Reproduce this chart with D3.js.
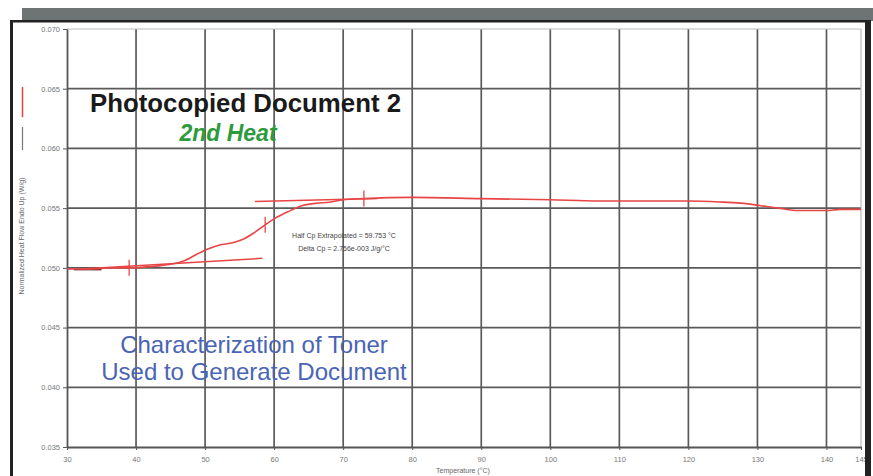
<!DOCTYPE html>
<html>
<head>
<meta charset="utf-8">
<script src="https://cdn.jsdelivr.net/npm/d3@7"></script>
<style>
  body { margin: 0; background: #fff; }
  text { font-family: "Liberation Sans", Arial, sans-serif; }
</style>
</head>
<body>
<div id="chart"></div>
<script>
// heat flow curve (temperature, W/g)
var temps = [30, 33, 36, 39, 42, 45, 47, 49, 50.5, 52, 54, 55.5, 57, 58.7, 60, 62, 64, 66, 68, 70, 73, 80, 90, 100, 107, 110, 120, 125, 128, 130.5, 133, 136, 138, 140, 142, 145];
var heatFlow = [0.0499, 0.0499, 0.0500, 0.0500, 0.0501, 0.0503, 0.0506, 0.0512, 0.0516, 0.0519, 0.0521, 0.0524, 0.0529, 0.0536, 0.0541, 0.0547, 0.0552, 0.0554, 0.0555, 0.0557, 0.0558, 0.0559, 0.0558, 0.0557, 0.0556, 0.0556, 0.0556, 0.0555, 0.0554, 0.0552, 0.0550, 0.0548, 0.0548, 0.0548, 0.0549, 0.0549];
// tangent lines of the glass transition
var lowTangentT = [32, 58.3];
var lowTangentV = [0.0499, 0.0508];
var highTangentT = [57.2, 75];
var highTangentV = [0.05555, 0.0558];
// onset / mid / end markers
var markT = [39, 58.7, 73];
var markV = [0.0500, 0.0536, 0.0558];
// short dark baseline trace
var darkT = [31, 35];
var darkV = [0.04985, 0.04985];

var xTicks = [30, 40, 50, 60, 70, 80, 90, 100, 110, 120, 130, 140, 145];
var yTicks = [0.035, 0.040, 0.045, 0.050, 0.055, 0.060, 0.065, 0.070];

var W = 873, H = 476;
var svg = d3.select("#chart").append("svg")
    .attr("width", W).attr("height", H);

// frame
svg.append("rect").attr("x", 22).attr("y", 8).attr("width", 851).attr("height", 13).attr("fill", "#6e7373");
svg.append("rect").attr("x", 10).attr("y", 20).attr("width", 860).attr("height", 2.5).attr("fill", "#222");
svg.append("rect").attr("x", 10).attr("y", 20).attr("width", 3).attr("height", 456).attr("fill", "#222");

var x = d3.scaleLinear().domain([30, 145]).range([67, 861]);
var y = d3.scaleLinear().domain([0.035, 0.070]).range([447, 29]);

// grid
svg.append("g").selectAll("line").data(xTicks.slice(1, -1)).join("line")
    .attr("x1", d => x(d)).attr("x2", d => x(d))
    .attr("y1", y(0.070)).attr("y2", y(0.035))
    .attr("stroke", "#5a5a5a").attr("stroke-width", 1.7);
svg.append("g").selectAll("line").data(yTicks.slice(1, -1)).join("line")
    .attr("x1", x(30)).attr("x2", x(145))
    .attr("y1", d => y(d)).attr("y2", d => y(d))
    .attr("stroke", "#5a5a5a").attr("stroke-width", 1.7);
// top and right edges lighter
svg.append("line").attr("x1", x(30)).attr("x2", x(145)).attr("y1", y(0.070)).attr("y2", y(0.070))
    .attr("stroke", "#bbb").attr("stroke-width", 1.2);
svg.append("line").attr("x1", x(145)).attr("x2", x(145)).attr("y1", y(0.070)).attr("y2", y(0.035))
    .attr("stroke", "#bbb").attr("stroke-width", 1.2);

// axes
var yAxis = svg.append("g").attr("transform", "translate(" + x(30) + ",0)")
    .call(d3.axisLeft(y).tickValues(yTicks).tickFormat(d3.format(".3f")).tickSize(4).tickSizeOuter(0));
var xAxis = svg.append("g").attr("transform", "translate(0," + y(0.035) + ")")
    .call(d3.axisBottom(x).tickValues(xTicks).tickFormat(d3.format("d")).tickSize(3).tickSizeOuter(0));
[yAxis, xAxis].forEach(function(a) {
  a.select(".domain").attr("stroke", "#555").attr("stroke-width", 1.8);
  a.selectAll(".tick line").attr("stroke", "#555");
  a.selectAll("text").attr("fill", "#777").style("font-size", "7.5px")
    .style("font-family", "'Liberation Sans', Arial, sans-serif");
});
xAxis.selectAll("text").attr("dy", "1.2em");

svg.append("text").attr("x", 463).attr("y", 473).attr("text-anchor", "middle")
    .attr("fill", "#666").style("font-size", "7px").text("Temperature (°C)");
svg.append("text").attr("transform", "translate(24,236) rotate(-90)").attr("text-anchor", "middle")
    .attr("fill", "#666").style("font-size", "7px").text("Normalized Heat Flow Endo Up (W/g)");

// legend marks on the left
svg.append("line").attr("x1", 22.5).attr("x2", 22.5).attr("y1", 87).attr("y2", 117).attr("stroke", "#e84040").attr("stroke-width", 1.5);
svg.append("line").attr("x1", 22.5).attr("x2", 22.5).attr("y1", 127).attr("y2", 150).attr("stroke", "#777").attr("stroke-width", 1.2);

var line = d3.line().x(d => x(d[0])).y(d => y(d[1]));

svg.append("path").datum(d3.zip(darkT, darkV)).attr("d", line)
    .attr("fill", "none").attr("stroke", "#7a3030").attr("stroke-width", 1.5);
svg.append("path").datum(d3.zip(lowTangentT, lowTangentV)).attr("d", line)
    .attr("fill", "none").attr("stroke", "#e84545").attr("stroke-width", 1.5);
svg.append("path").datum(d3.zip(highTangentT, highTangentV)).attr("d", line)
    .attr("fill", "none").attr("stroke", "#e84545").attr("stroke-width", 1.5);
svg.append("path").datum(d3.zip(temps, heatFlow)).attr("d", line.curve(d3.curveMonotoneX))
    .attr("fill", "none").attr("stroke", "#e84545").attr("stroke-width", 1.6);

svg.append("g").selectAll("line").data(d3.zip(markT, markV)).join("line")
    .attr("x1", d => x(d[0])).attr("x2", d => x(d[0]))
    .attr("y1", d => y(d[1]) - 8).attr("y2", d => y(d[1]) + 8)
    .attr("stroke", "#e84545").attr("stroke-width", 1.3);

// annotation
svg.append("text").attr("x", 344).attr("y", 238).attr("text-anchor", "middle")
    .attr("fill", "#444").style("font-size", "7px").text("Half Cp Extrapolated = 59.753 °C");
svg.append("text").attr("x", 344).attr("y", 251).attr("text-anchor", "middle")
    .attr("fill", "#444").style("font-size", "7px").text("Delta Cp = 2.756e-003 J/g/°C");

// titles
svg.append("text").attr("x", 90).attr("y", 112).attr("fill", "#1a1a1a")
    .style("font-size", "25.8px").style("font-weight", "bold").text("Photocopied Document 2");
svg.append("text").attr("x", 228).attr("y", 141).attr("text-anchor", "middle").attr("fill", "#2e9a3e")
    .style("font-size", "23px").style("font-weight", "bold").style("font-style", "italic").text("2nd Heat");
svg.append("text").attr("x", 254).attr("y", 353).attr("text-anchor", "middle").attr("fill", "#4a64b4")
    .style("font-size", "24px").text("Characterization of Toner");
svg.append("text").attr("x", 254).attr("y", 380).attr("text-anchor", "middle").attr("fill", "#4a64b4")
    .style("font-size", "24px").text("Used to Generate Document");

// right border drawn last so the end label is clipped like the original
svg.append("rect").attr("x", 865).attr("y", 20).attr("width", 6).attr("height", 456).attr("fill", "#222");
</script>
</body>
</html>
